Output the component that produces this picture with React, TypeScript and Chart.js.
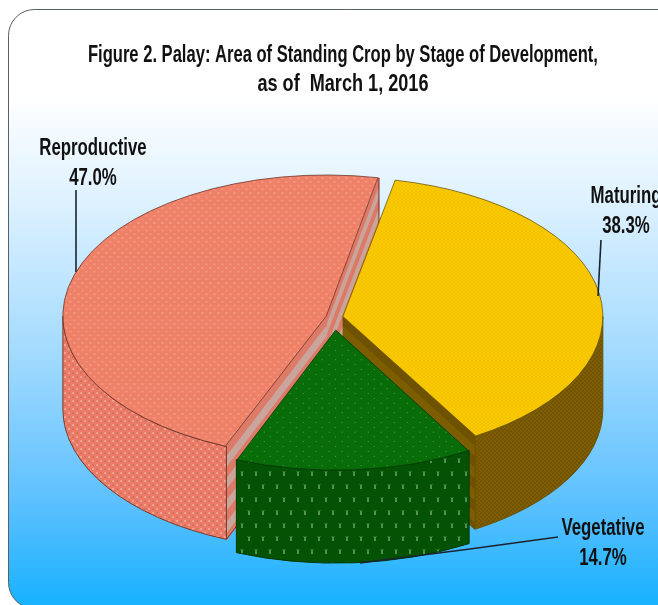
import React, { useEffect, useRef } from "react";
import { Chart, registerables } from "chart.js";

Chart.register(...registerables);

const categories = ["Maturing", "Vegetative", "Reproductive"];
const shares = [38.3, 14.7, 47.0];
const titleLines = [
  "Figure 2. Palay: Area of Standing Crop by Stage of Development,",
  "as of  March 1, 2016",
];

const FONT = '"Liberation Sans", Arial, sans-serif';
const TITLE_NARROW = 0.787;
const LABEL_NARROW = 0.73;
const TILT = 0.535;
const DEPTH = 93;
const PAINT_ORDER = [2, 0, 1];

function tile(w: number, h: number, bg: string, paint: (c: CanvasRenderingContext2D) => void) {
  const cv = document.createElement("canvas");
  cv.width = w;
  cv.height = h;
  const c = cv.getContext("2d")!;
  c.fillStyle = bg;
  c.fillRect(0, 0, w, h);
  paint(c);
  return document.createElement("canvas").getContext("2d")!.createPattern(cv, "repeat")!;
}

function makePatterns() {
  const topPink = tile(8, 14, "#ef8169", (c) => {
    c.fillStyle = "#f59c86";
    c.fillRect(1, 2, 2, 3);
    c.fillRect(5, 9, 2, 3);
  });
  const topYellow = tile(4, 6, "#fbcb00", (c) => {
    c.fillStyle = "#f4c200";
    c.fillRect(0, 0, 2, 3);
    c.fillRect(2, 3, 2, 3);
  });
  const topGreen = tile(13, 18, "#086c08", (c) => {
    c.fillStyle = "#4f9a45";
    c.fillRect(2, 3, 1, 2);
    c.fillRect(8, 12, 1, 2);
  });
  const wallPink = tile(8, 8, "#e97c68", (c) => {
    c.fillStyle = "#f4a08e";
    c.fillRect(0, 0, 2, 2);
    c.fillRect(4, 4, 2, 2);
    c.fillStyle = "#dc6e5c";
    c.fillRect(4, 0, 2, 2);
    c.fillRect(0, 4, 2, 2);
  });
  const wallYellow = tile(4, 4, "#7e5e00", (c) => {
    c.fillStyle = "#725400";
    c.fillRect(0, 0, 2, 2);
    c.fillRect(2, 2, 2, 2);
  });
  const wallGreen = tile(14, 26, "#045204", (c) => {
    c.fillStyle = "#4f944c";
    c.fillRect(3, 4, 2, 4);
    c.fillRect(10, 17, 2, 4);
    c.fillStyle = "#256f24";
    c.fillRect(2, 3, 4, 1);
    c.fillRect(9, 16, 4, 1);
  });
  return {
    tops: [topYellow, topGreen, topPink],
    walls: [wallYellow, wallGreen, wallPink],
  };
}

const faceColors = [
  ["#6e5200", "#7c5e00"],
  ["#034003", "#034003"],
  ["#dd7a68", "#c9a59c"],
];
const edgeColors = ["#6b5200", "#023802", "#7a3a2c"];

const pieCentre = (chart: any) => ({
  x: (chart.chartArea.left + chart.chartArea.right) / 2,
  y: (chart.chartArea.top + chart.chartArea.bottom) / 2,
});

const backdrop = {
  id: "backdrop",
  beforeDraw(chart: any) {
    const { ctx, width, height } = chart;
    const block = chart.titleBlock;
    if (block && !block.__narrow) {
      const drawTitle = block.draw.bind(block);
      block.__narrow = true;
      block.draw = (area: any) => {
        ctx.save();
        ctx.translate(width / 2 + 10, 0);
        ctx.scale(TITLE_NARROW, 1);
        ctx.translate(-width / 2, 0);
        drawTitle(area);
        ctx.restore();
      };
    }
    ctx.save();
    ctx.fillStyle = "#ffffff";
    ctx.fillRect(0, 0, width, height);
    ctx.beginPath();
    ctx.roundRect(8.5, 9.5, width + 30, height + 10 - 16, 26);
    const g = ctx.createLinearGradient(0, 95, 0, height);
    g.addColorStop(0, "#ffffff");
    g.addColorStop(0.2, "#dff2ff");
    g.addColorStop(0.5, "#a4dbff");
    g.addColorStop(0.8, "#5cc0ff");
    g.addColorStop(1, "#18b2ff");
    ctx.fillStyle = g;
    ctx.fill();
    ctx.strokeStyle = "#5a5f66";
    ctx.lineWidth = 1;
    ctx.stroke();
    ctx.restore();
  },
};

const extrude = {
  id: "extrude",
  beforeDatasetsDraw(chart: any, _a: any, opts: any) {
    const { ctx } = chart;
    const arcs = chart.getDatasetMeta(0).data;
    const c = pieCentre(chart);
    ctx.save();
    for (const i of PAINT_ORDER) {
      const el = arcs[i];
      const off = (el.options.offset || 0) / 4;
      const span = el.endAngle - el.startAngle;
      const fix = 1 - Math.sin(Math.min(Math.PI, span));
      const mid = (el.startAngle + el.endAngle) / 2;
      const x = el.x + Math.cos(mid) * off;
      const y = c.y + (el.y - c.y + Math.sin(mid) * off) * TILT;
      const R = el.outerRadius + off * fix;
      const a = el.startAngle;
      const b = el.endAngle;
      const pt = (t: number, d = 0) => [x + Math.cos(t) * R, y + Math.sin(t) * R * TILT + d];

      const stripes = (t: number) => {
        const [px, py] = pt(t);
        for (let d = 0; d <= DEPTH; d += 1) {
          ctx.beginPath();
          ctx.moveTo(x, y + d);
          ctx.lineTo(px, py + d);
          const band = Math.floor(d / 11) % 2;
          ctx.strokeStyle = faceColors[i][band];
          ctx.lineWidth = 1.6;
          ctx.stroke();
        }
        ctx.beginPath();
        ctx.moveTo(px, py);
        ctx.lineTo(px, py + DEPTH);
        ctx.lineTo(x, y + DEPTH);
        ctx.strokeStyle = edgeColors[i];
        ctx.lineWidth = 1;
        ctx.stroke();
      };
      if (Math.cos(b) > 0) stripes(b);
      if (-Math.cos(a) > 0) stripes(a);

      // outer wall: the part of the rim that faces the viewer
      const TAU = Math.PI * 2;
      for (let k = -1; k <= 1; k++) {
        const w0 = Math.max(a, k * TAU);
        const w1 = Math.min(b, k * TAU + Math.PI);
        if (w1 <= w0) continue;
        ctx.beginPath();
        ctx.ellipse(x, y, R, R * TILT, 0, w0, w1);
        ctx.ellipse(x, y + DEPTH, R, R * TILT, 0, w1, w0, true);
        ctx.closePath();
        ctx.fillStyle = opts.walls[i];
        ctx.fill();
        ctx.strokeStyle = edgeColors[i];
        ctx.lineWidth = 1;
        ctx.stroke();
      }
    }
    ctx.restore();
    // the slice tops are drawn by Chart.js inside this squashed frame
    ctx.save();
    ctx.translate(0, c.y);
    ctx.scale(1, TILT);
    ctx.translate(0, -c.y);
  },
  afterDatasetsDraw(chart: any) {
    chart.ctx.restore();
  },
};

const labelPlacement = [
  { x: 626, y: 197, line: [[601, 240], [598, 296]] },
  { x: 603, y: 529, line: [[558, 537], [470, 549], [360, 563]] },
  { x: 93, y: 149, line: [[76, 190], [76, 272]] },
];

const pieLabels = {
  id: "pieLabels",
  afterDatasetsDraw(chart: any) {
    const { ctx } = chart;
    ctx.save();
    ctx.textAlign = "center";
    ctx.textBaseline = "middle";
    ctx.font = `bold 23px ${FONT}`;
    categories.forEach((name, i) => {
      const p = labelPlacement[i];
      ctx.save();
      ctx.translate(p.x, p.y);
      ctx.scale(LABEL_NARROW, 1);
      ctx.fillStyle = "#111111";
      ctx.fillText(name, 0, 0);
      ctx.fillText(`${shares[i].toFixed(1)}%`, 0, 30);
      ctx.restore();
      ctx.beginPath();
      p.line.forEach(([lx, ly], j) => (j ? ctx.lineTo(lx, ly) : ctx.moveTo(lx, ly)));
      ctx.strokeStyle = "#1c2430";
      ctx.lineWidth = 1.6;
      ctx.stroke();
    });
    ctx.restore();
  },
};

export default function App() {
  const ref = useRef<HTMLCanvasElement>(null);
  useEffect(() => {
    const patterns = makePatterns();
    const chart = new Chart(ref.current!, {
      type: "pie",
      data: {
        labels: categories,
        datasets: [
          {
            data: shares,
            backgroundColor: patterns.tops,
            borderColor: ["#6b5200", "#023802", "#6b3024"],
            borderWidth: 1,
            offset: [36, 96, 32],
            clip: false,
          } as any,
        ],
      },
      plugins: [backdrop, extrude, pieLabels],
      options: {
        animation: false,
        responsive: false,
        rotation: 11.5,
        radius: 257,
        layout: { padding: { left: 10, right: 0, top: 0, bottom: 78 } },
        plugins: {
          legend: { display: false },
          tooltip: { enabled: false },
          title: {
            display: true,
            text: titleLines,
            color: "#111111",
            font: { family: FONT, size: 23, weight: "bold", lineHeight: 1.27 },
            padding: { top: 41, bottom: 8 },
          },
          extrude: { walls: patterns.walls },
        } as any,
      },
    });
    return () => chart.destroy();
  }, []);
  return (
    <div style={{ position: "fixed", left: 0, top: 0, width: 658, height: 605, overflow: "hidden" }}>
      <canvas ref={ref} width={658} height={605} style={{ display: "block" }} />
    </div>
  );
}
